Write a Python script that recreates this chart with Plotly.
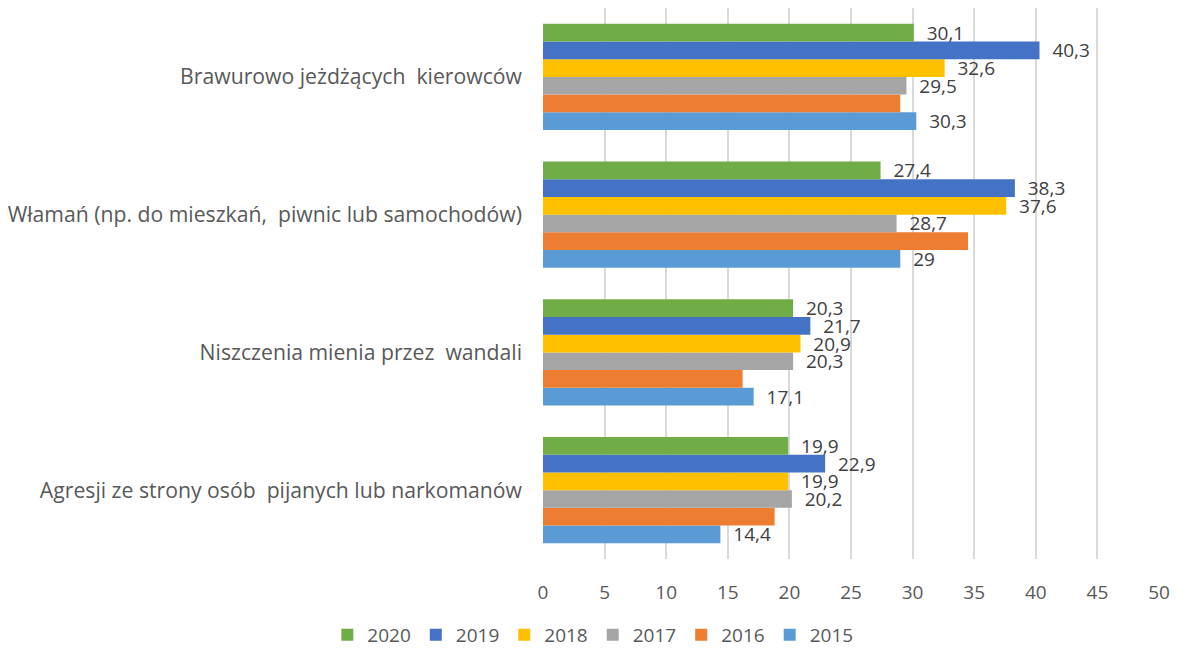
import plotly.graph_objects as go

categories = [
    "Brawurowo jeżdżących  kierowców",
    "Włamań (np. do mieszkań,  piwnic lub samochodów)",
    "Niszczenia mienia przez  wandali",
    "Agresji ze strony osób  pijanych lub narkomanów",
]
years = ["2020", "2019", "2018", "2017", "2016", "2015"]
v2020 = [30.1, 27.4, 20.3, 19.9]
v2019 = [40.3, 38.3, 21.7, 22.9]
v2018 = [32.6, 37.6, 20.9, 19.9]
v2017 = [29.5, 28.7, 20.3, 20.2]
v2016 = [29.0, 34.5, 16.2, 18.8]
v2015 = [30.3, 29.0, 17.1, 14.4]
values = [v2020, v2019, v2018, v2017, v2016, v2015]
colors = ["#70AD47", "#4472C4", "#FFC000", "#A5A5A5", "#ED7D31", "#5B9BD5"]
show_labels = [True, True, True, True, False, True]
x_ticks = [0, 5, 10, 15, 20, 25, 30, 35, 40, 45, 50]

FONT = "Open Sans"

def fmt(v):
    return "\u00a0\u00a0" + f"{v:g}".replace(".", ",")

fig = go.Figure()
# add bottom-most series first so that 2020 is at the top of each group
for yr, vals, col, lab in reversed(list(zip(years, values, colors, show_labels))):
    fig.add_trace(go.Bar(
        name=yr,
        y=categories,
        x=vals,
        orientation="h",
        marker=dict(color=col, line=dict(width=0)),
        text=[fmt(v) for v in vals] if lab else None,
        textposition="outside" if lab else "none",
        constraintext="none",
        textfont=dict(family=FONT, size=19, color="#404040"),
        cliponaxis=False,
    ))

fig.update_layout(
    width=1165, height=643,
    barmode="group",
    bargap=0.23,
    bargroupgap=0,
    plot_bgcolor="white",
    paper_bgcolor="white",
    font=dict(family=FONT, size=19, color="#595959"),
    margin=dict(l=535, r=14, t=0, b=92),
    legend=dict(
        orientation="h", traceorder="reversed",
        x=0.502, xanchor="center", xref="container",
        y=0.025, yanchor="middle", yref="container",
        font=dict(family=FONT, size=19, color="#595959"),
        itemwidth=30,
    ),
    xaxis=dict(
        range=[0, 50], tickvals=x_ticks,
        showgrid=True, gridcolor="#D9D9D9", gridwidth=2,
        zeroline=False, showline=False,
        tickfont=dict(family=FONT, size=19, color="#595959"),
        ticks="", ticklabelstandoff=20,
    ),
    yaxis=dict(
        categoryorder="array", categoryarray=list(reversed(categories)),
        showgrid=False, zeroline=False, showline=False,
        tickfont=dict(family=FONT, size=21.2, color="#595959"),
        ticks="", ticklabelstandoff=20,
    ),
)

fig.write_html("out.html")
